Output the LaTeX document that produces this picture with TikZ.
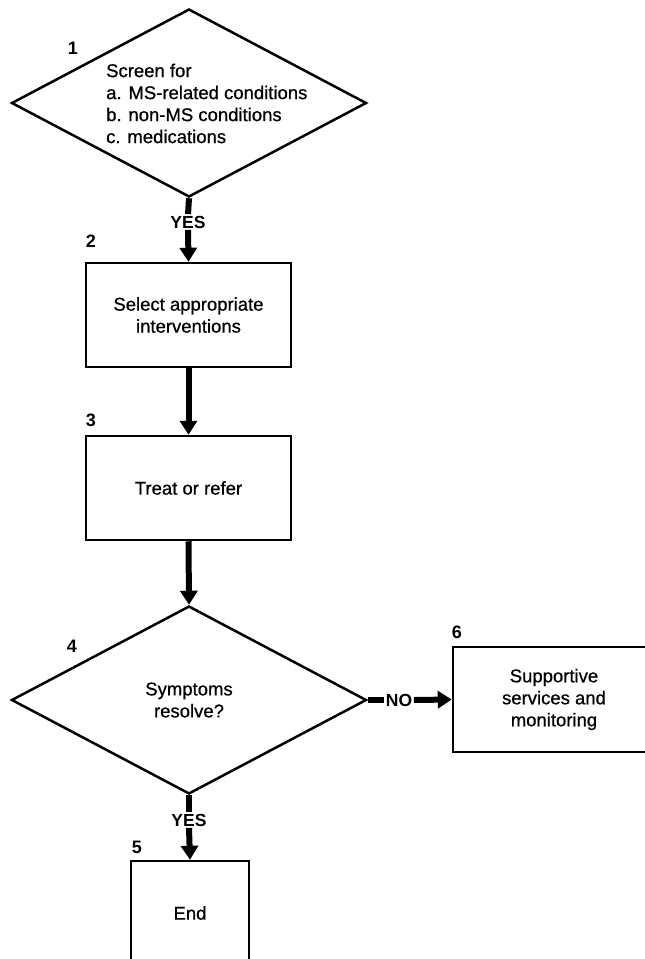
\documentclass[tikz,border=0pt]{standalone}
\usepackage{fontspec}
\setmainfont{Liberation Sans}[FakeBold=0.7]
\newfontfamily\labfont{Liberation Sans Bold}
\usetikzlibrary{shapes.geometric,arrows.meta}
\begin{document}
\begin{tikzpicture}[x=1pt,y=-1pt,
  txt/.style={inner sep=0pt,align=center,font=\fontsize{18.5}{22}\selectfont},
  box/.style={draw,line width=2.5pt,inner sep=0pt,align=center,font=\fontsize{18.5}{22}\selectfont},
  dia/.style={draw,diamond,line width=2.5pt,inner sep=0pt,align=center,font=\fontsize{18.5}{22}\selectfont},
  num/.style={inner sep=0pt,font=\labfont\fontsize{18}{18}\selectfont},
  lab/.style={inner sep=1.5pt,font=\labfont\fontsize{17.5}{17.5}\selectfont},
  conn/.style={line width=6pt},
  arr/.style={line width=6pt,-{Triangle[width=17pt,length=14pt]}}
]
\useasboundingbox (0,0) rectangle (645,959);
\clip (0,0) rectangle (645,959);

% nodes
\node[dia,minimum width=355pt,minimum height=188pt] (d1) at (189,103) {};
\node[txt,align=left,anchor=north west] (t1) at (106,63.5)
  {Screen for\\a. MS-related conditions\\b. non-MS conditions\\c. medications};
\node[num] (n1) at (73,48) {1};

\node[lab] (y1) at (188,222) {YES};

\node[box,minimum width=205pt,minimum height=104pt] (b2) at (188.5,315) {Select appropriate\\interventions};
\node[num] (n2) at (91,241) {2};

\node[box,minimum width=205pt,minimum height=104pt] (b3) at (188.5,488) {Treat or refer};
\node[num] (n3) at (91,420) {3};

\node[dia,minimum width=355pt,minimum height=188pt] (d4) at (189,700) {Symptoms\\resolve?};
\node[num] (n4) at (72,646) {4};

\node[lab] (no) at (399,700) {NO};

\node[box,minimum width=202pt,minimum height=105pt] (b6) at (554,699.5) {Supportive\\services and\\monitoring};
\node[num] (n6) at (457,632) {6};

\node[lab] (y2) at (189,820) {YES};

\node[box,minimum width=118pt,minimum height=104pt] (b5) at (190,913) {End};
\node[num] (n5) at (137,847) {5};

% connectors
\draw[conn] (d1.south) -- (y1.north);
\draw[arr] (y1.south) -- (b2.north);
\draw[arr] (b2.south) -- (b3.north);
\draw[arr] (b3.south) -- (d4.north);
\draw[conn] (d4.east) -- (no.west);
\draw[arr] (no.east) -- (b6.west);
\draw[conn] (d4.south) -- (y2.north);
\draw[arr] (y2.south) -- (b5.north);
\end{tikzpicture}
\end{document}
